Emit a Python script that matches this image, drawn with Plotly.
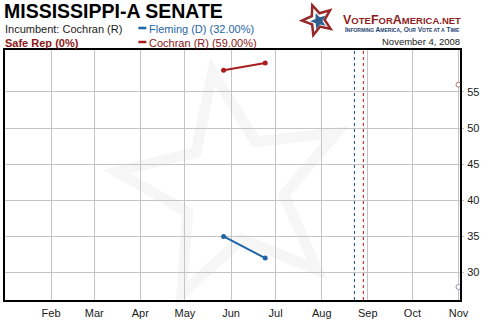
import math
import plotly.graph_objects as go

# Poll results (percent)
poll_dates = ["2008-05-27", "2008-06-24"]
fleming = [35, 32]
cochran = [58, 59]

# Election-day projections
proj_date = ["2008-11-01"]
fleming_proj = [28]
cochran_proj = [56]

# Party conventions
dnc_date = "2008-08-23"
rnc_date = "2008-08-29"

month_ticks = ["2008-02-01", "2008-03-01", "2008-04-01", "2008-05-01", "2008-06-01",
               "2008-07-01", "2008-08-01", "2008-09-01", "2008-10-01", "2008-11-01"]
month_labels = ["Feb", "Mar", "Apr", "May", "Jun", "Jul", "Aug", "Sep", "Oct", "Nov"]
y_ticks = [30, 35, 40, 45, 50, 55]

BLUE = "#1f64a6"
RED = "#a81c1c"
DARK_RED = "#8e1616"
TXT = "#1a1a1a"

# plot area in pixels
L, R_, T, B = 3, 460, 50, 300
PW, PH = R_ - L, B - T


def px(x, y):
    return (x - L) / PW, (B - y) / PH


def star_path(cx, cy, ro, ri, rot):
    pts = []
    for k in range(10):
        a = math.radians(rot + 36 * k)
        rr = ro if k % 2 == 0 else ri
        pts.append(px(cx + rr * math.cos(a), cy + rr * math.sin(a)))
    return "M " + " L ".join(f"{x:.4f},{y:.4f}" for x, y in pts) + " Z"


fig = go.Figure()

fig.add_trace(go.Scatter(x=poll_dates, y=fleming, mode="lines+markers",
                         line=dict(color=BLUE, width=2), marker=dict(size=5, color=BLUE)))
fig.add_trace(go.Scatter(x=poll_dates, y=cochran, mode="lines+markers",
                         line=dict(color=RED, width=2), marker=dict(size=5, color=RED)))
fig.add_trace(go.Scatter(x=proj_date, y=fleming_proj, mode="markers",
                         marker=dict(size=5, color="white", line=dict(color="#7f9dbd", width=1))))
fig.add_trace(go.Scatter(x=proj_date, y=cochran_proj, mode="markers",
                         marker=dict(size=5, color="white", line=dict(color="#b47070", width=1))))

shapes = []
# faint star watermark
outer = star_path(232, 188, 132, 58, -100)
inner = star_path(232, 188, 104, 45, -100)
shapes.append(dict(type="path", xref="paper", yref="paper", path=outer + " " + inner,
                   fillrule="evenodd", fillcolor="#f6f6f6", line=dict(width=0), layer="below"))
# convention markers
for d, c in [(dnc_date, "#1f4f7f"), (rnc_date, "#c01010")]:
    shapes.append(dict(type="line", xref="x", yref="paper", x0=d, x1=d, y0=0, y1=1,
                       line=dict(color=c, width=1, dash="dot")))
# legend dashes
for yy, c in [(28, BLUE), (42, RED)]:
    x0, y0 = px(137, yy)
    x1, _ = px(145, yy)
    shapes.append(dict(type="line", xref="paper", yref="paper", x0=x0, x1=x1, y0=y0, y1=y0,
                       line=dict(color=c, width=2.5)))
# logo star
shapes.append(dict(type="path", xref="paper", yref="paper",
                   path=star_path(317, 20, 19, 8.5, -110) + " " + star_path(317, 20, 12.5, 5.5, -110),
                   fillrule="evenodd", fillcolor="#962828", line=dict(width=0)))
shapes.append(dict(type="path", xref="paper", yref="paper",
                   path=star_path(318, 21, 8.5, 3.8, -110),
                   fillcolor="#2e5f8f", line=dict(width=0)))

annotations = []


def note(x, y, text, size, color, anchor="left", bold=False, family="Liberation Sans, Arial"):
    ax, ay = px(x, y)
    if bold:
        text = f"<b>{text}</b>"
    annotations.append(dict(x=ax, y=ay, xref="paper", yref="paper", text=text, showarrow=False,
                            xanchor=anchor, yanchor="middle", borderpad=0,
                            font=dict(size=size, color=color, family=family)))


note(1, 10.5, "MISSISSIPPI-A SENATE", 19.5, "#000000", bold=True)
note(2, 29, "Incumbent: Cochran (R)", 11, TXT)
note(2, 43, "Safe Rep (0%)", 11, DARK_RED, bold=True)
note(147, 29, f"Fleming (D) ({fleming[-1]:.2f}%)", 11, BLUE)
note(147, 43, f"Cochran (R) ({cochran[-1]:.2f}%)", 11, DARK_RED)
note(461, 42, "November 4, 2008", 9.5, TXT, anchor="right")
sc = "font-size:9.5px"
note(462, 20, f"V<span style='{sc}'>OTE</span>F<span style='{sc}'>OR</span>A"
              f"<span style='{sc}'>MERICA.NET</span>", 12.5, "#8e1f1f", anchor="right", bold=True)
ts = "font-size:5px"
note(461, 30, f"I<span style='{ts}'>NFORMING</span> A<span style='{ts}'>MERICA</span>, "
              f"O<span style='{ts}'>UR</span> V<span style='{ts}'>OTE AT A</span> "
              f"T<span style='{ts}'>IME</span>", 6.5, "#1f3f6f", anchor="right", bold=True)

fig.update_layout(
    width=490, height=330,
    margin=dict(l=L, r=490 - R_, t=T, b=330 - B),
    paper_bgcolor="white", plot_bgcolor="white",
    showlegend=False, hovermode=False,
    shapes=shapes, annotations=annotations,
    font=dict(family="Liberation Sans, Arial", size=11, color=TXT),
)
fig.update_xaxes(type="date", range=["2008-01-01", "2008-11-02"],
                 tickvals=month_ticks, ticktext=month_labels,
                 showgrid=True, gridcolor="#c4c4c4", gridwidth=1,
                 showline=True, linecolor="black", linewidth=2, mirror=True,
                 ticks="", ticklabelstandoff=2, tickfont=dict(size=11, color=TXT),
                 zeroline=False)
fig.update_yaxes(range=[26.2, 60.8], tickvals=y_ticks, side="right",
                 showgrid=True, gridcolor="#c4c4c4", gridwidth=1,
                 showline=True, linecolor="black", linewidth=2, mirror=True,
                 ticks="outside", ticklen=2, tickcolor="#c4c4c4",
                 ticklabelstandoff=1, tickfont=dict(size=11, color=TXT),
                 zeroline=False)

fig.write_html("out.html")
